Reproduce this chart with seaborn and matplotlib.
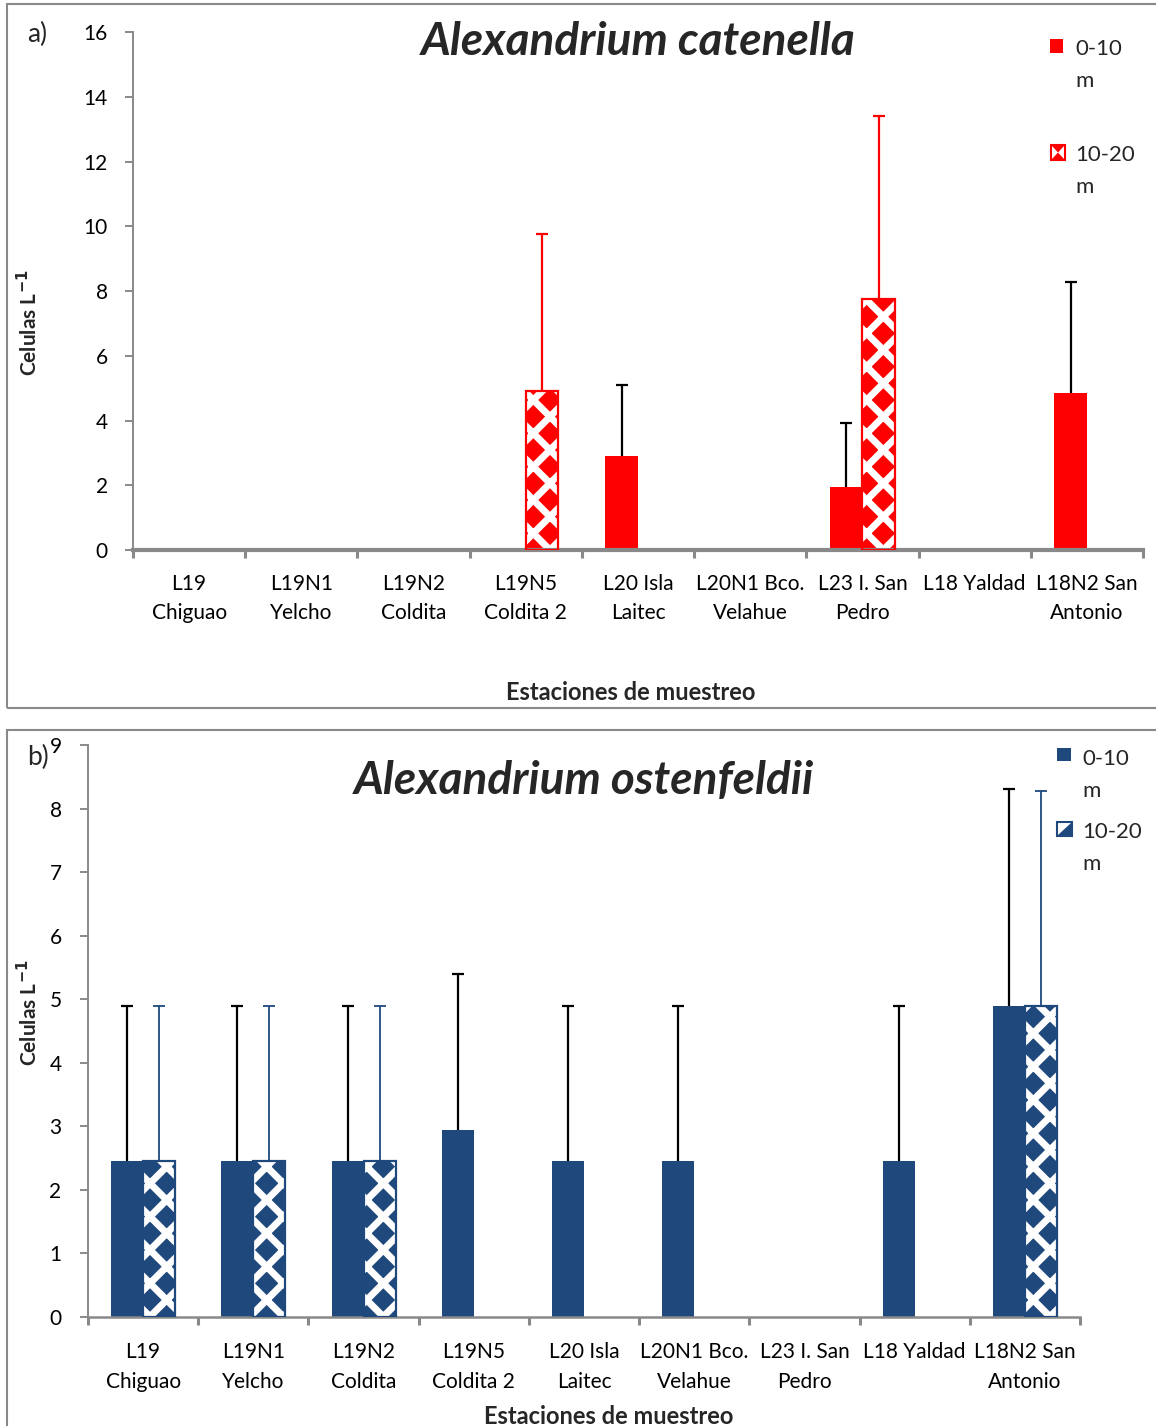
import numpy as np
import pandas as pd
import matplotlib
matplotlib.use("Agg")
import matplotlib.pyplot as plt
from matplotlib.patches import Rectangle, Polygon
import seaborn as sns

# Sampling stations (tick labels) and depth strata
stations = ["L19\nChiguao", "L19N1\nYelcho", "L19N2\nColdita", "L19N5\nColdita 2",
            "L20 Isla\nLaitec", "L20N1 Bco.\nVelahue", "L23 I. San\nPedro",
            "L18 Yaldad", "L18N2 San\nAntonio"]
depths = ["0-10 m", "10-20 m"]

# Alexandrium catenella, cells per litre (mean and upper error)
cat_0_10 = [0, 0, 0, 0, 2.9, 0, 1.95, 0, 4.85]
cat_10_20 = [0, 0, 0, 4.9, 0, 0, 7.75, 0, 0]
cat_err_0_10 = [0, 0, 0, 0, 2.2, 0, 1.97, 0, 3.42]
cat_err_10_20 = [0, 0, 0, 4.85, 0, 0, 5.65, 0, 0]

# Alexandrium ostenfeldii, cells per litre (mean and upper error)
ost_0_10 = [2.45, 2.45, 2.45, 2.95, 2.45, 2.45, 0, 2.45, 4.9]
ost_10_20 = [2.45, 2.45, 2.45, 0, 0, 0, 0, 0, 4.9]
ost_err_0_10 = [2.45, 2.45, 2.45, 2.45, 2.45, 2.45, 0, 2.45, 3.4]
ost_err_10_20 = [2.45, 2.45, 2.45, 0, 0, 0, 0, 0, 3.38]

RED = "#FF0000"
NAVY = "#1F497D"
GREY = "#898989"

sns.set_style("white")
plt.rcParams["font.family"] = ["Lato", "DejaVu Sans"]
plt.rcParams["hatch.linewidth"] = 5.0
plt.rcParams["mathtext.fontset"] = "dejavusans"

W, H = 1156, 1426
fig = plt.figure(figsize=(W / 100, H / 100), dpi=100)


def fx(px):
    return px / W


def fy(py):
    return 1 - py / H


def draw_panel(ax, v1, v2, e1, e2, color, err2_color, err2_lw, ymax, ystep,
               bottom_lw, ytick_pad, xtick_pad):
    df = pd.DataFrame({
        "station": stations * 2,
        "depth": [depths[0]] * len(stations) + [depths[1]] * len(stations),
        "value": v1 + v2,
    })
    sns.barplot(data=df, x="station", y="value", hue="depth", order=stations,
                hue_order=depths, palette=[color, color], saturation=1,
                width=0.58, errorbar=None, linewidth=0, legend=False, ax=ax)
    solid, hatched = ax.containers[0], ax.containers[1]
    for p in hatched:
        p.set_facecolor(color)
        p.set_edgecolor("white")
        p.set_linewidth(0)
        p.set_hatch("x")
        if p.get_height() > 0:
            ax.add_patch(Rectangle(p.get_xy(), p.get_width(), p.get_height(),
                                   fill=False, edgecolor=color, lw=1.6, zorder=3))
    for cont, errs, ecol, elw in ((solid, e1, "black", 1.6),
                                  (hatched, e2, err2_color, err2_lw)):
        xs, ys, up = [], [], []
        for p, e in zip(cont, errs):
            if e > 0:
                xs.append(p.get_x() + p.get_width() / 2)
                ys.append(p.get_height())
                up.append(e)
        eb = ax.errorbar(xs, ys, yerr=[np.zeros(len(up)), up], fmt="none",
                         ecolor=ecol, elinewidth=elw, capsize=4.3,
                         capthick=elw, zorder=4)
        # only the upper caps are shown
        caps = eb.lines[1]
        if len(caps) == 2:
            caps[0].set_visible(False)

    ax.set_xlim(-0.5, len(stations) - 0.5)
    ax.set_ylim(0, ymax)
    ax.set_yticks(np.arange(0, ymax + 0.01, ystep))
    ax.set_xticks(range(len(stations)))
    ax.set_xticklabels(stations, linespacing=1.6, va="top")
    ax.set_xticks(np.arange(-0.5, len(stations), 1), minor=True)
    ax.tick_params(axis="x", which="major", length=0, pad=xtick_pad,
                   labelsize=15, labelcolor="black")
    ax.tick_params(axis="x", which="minor", length=6, width=2.2, color=GREY,
                   direction="out", bottom=True)
    ax.tick_params(axis="y", length=6, width=1.4, color=GREY, direction="out",
                   left=True, pad=ytick_pad, labelsize=15, labelcolor="black")
    ax.set_xlabel("")
    ax.set_ylabel("")
    for s in ("top", "right"):
        ax.spines[s].set_visible(False)
    ax.spines["left"].set_color(GREY)
    ax.spines["left"].set_linewidth(1.4)
    ax.spines["bottom"].set_color(GREY)
    ax.spines["bottom"].set_linewidth(bottom_lw)
    ax.set_facecolor("white")
    ax.grid(False)


# Panel frames
fig.add_artist(Rectangle((fx(7), fy(708)), fx(1165) - fx(7), fy(4) - fy(708),
                         transform=fig.transFigure, fill=False,
                         edgecolor=GREY, lw=1.5))
fig.add_artist(Rectangle((fx(7), fy(1440)), fx(1165) - fx(7), fy(730) - fy(1440),
                         transform=fig.transFigure, fill=False,
                         edgecolor=GREY, lw=1.5))

# Panel a: Alexandrium catenella
ax1 = fig.add_axes([fx(133), fy(550), fx(1143) - fx(133), fy(32) - fy(550)])
draw_panel(ax1, cat_0_10, cat_10_20, cat_err_0_10, cat_err_10_20, RED, RED, 1.6,
           16, 2, 3.0, 12, 17)
ax1.text(0.5, 0.98, "Alexandrium catenella", transform=ax1.transAxes,
         ha="center", va="center", fontsize=33, fontweight="bold",
         fontstyle="italic")

# Panel b: Alexandrium ostenfeldii
ax2 = fig.add_axes([fx(88), fy(1317), fx(1080) - fx(88), fy(745) - fy(1317)])
draw_panel(ax2, ost_0_10, ost_10_20, ost_err_0_10, ost_err_10_20, NAVY, NAVY, 1.3,
           9, 1, 1.8, 13, 18)
ax2.text(0.5, 0.937, "Alexandrium ostenfeldii", transform=ax2.transAxes,
         ha="center", va="center", fontsize=33, fontweight="bold",
         fontstyle="italic")

# Panel letters, axis titles
fig.text(fx(27), fy(34), "a)", fontsize=19, va="center", ha="left")
fig.text(fx(27), fy(757), "b)", fontsize=19, va="center", ha="left")
for yc in (323, 1013):
    fig.text(fx(29), fy(yc), r"Celulas L$^{\mathbf{-1}}$", rotation=90,
             fontsize=15, fontweight="bold", ha="center", va="center")
fig.text(fx(631), fy(693), "Estaciones de muestreo", fontsize=17,
         fontweight="bold", ha="center", va="center")
fig.text(fx(609), fy(1416), "Estaciones de muestreo", fontsize=17,
         fontweight="bold", ha="center", va="center")


# Legends
def legend_text(x, ybase, label):
    first, second = label.split(" ")
    fig.text(fx(x), fy(ybase), first, fontsize=16, va="baseline", ha="left")
    fig.text(fx(x), fy(ybase + 32), second, fontsize=16, va="baseline", ha="left")


def box(x0, y0, x1, y1, **kw):
    fig.add_artist(Rectangle((fx(x0), fy(y1)), fx(x1) - fx(x0), fy(y0) - fy(y1),
                             transform=fig.transFigure, **kw))


# panel a legend
box(1050, 39, 1063, 53, facecolor=RED, edgecolor="none")
legend_text(1075, 55, depths[0])
box(1051, 145, 1065, 160, facecolor="white", edgecolor=RED, lw=1.5)
fig.add_artist(Polygon([(fx(1052), fy(146)), (fx(1064), fy(146)), (fx(1058), fy(152.5)),
                        (fx(1064), fy(159)), (fx(1052), fy(159)), (fx(1058), fy(152.5))],
                       closed=True, transform=fig.transFigure,
                       facecolor=RED, edgecolor="none"))
legend_text(1075, 161, depths[1])

# panel b legend
box(1057, 748, 1071, 761, facecolor=NAVY, edgecolor="none")
legend_text(1082, 765, depths[0])
box(1057, 822, 1072, 836, facecolor="white", edgecolor=NAVY, lw=1.5)
fig.add_artist(Polygon([(fx(1071), fy(823)), (fx(1071), fy(835)), (fx(1058), fy(835))],
                       closed=True, transform=fig.transFigure,
                       facecolor=NAVY, edgecolor="none"))
legend_text(1082, 838, depths[1])

fig.savefig("out.png", dpi=100, facecolor="white")
